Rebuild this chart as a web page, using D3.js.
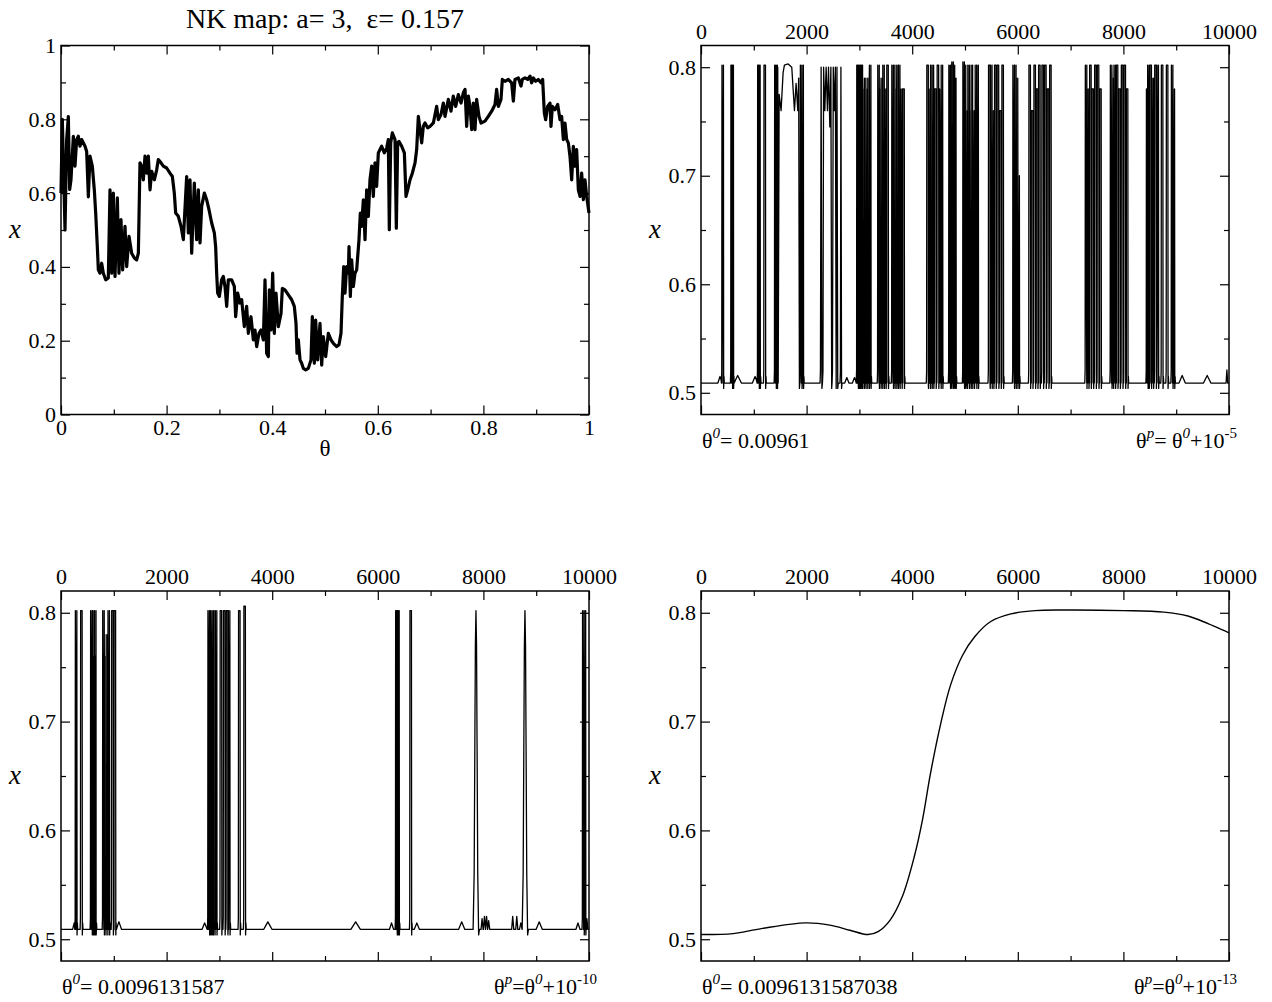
<!DOCTYPE html>
<html>
<head>
<meta charset="utf-8">
<script src="https://cdn.jsdelivr.net/npm/d3@7"></script>
<style>
body { margin: 0; background: #fff; }
text { font-family: "Liberation Serif", "Times New Roman", serif; fill: #000; }
</style>
</head>
<body>
<script>
// ---- data ----

// top-left: x against theta over [0,1] (jagged band)
var curveTL = [
[0,0.60],[0.0025,0.80],[0.0076,0.50],[0.0107,0.745],[0.0139,0.807],[0.0164,0.61],[0.0189,0.636],[0.0234,0.754],[0.0265,0.673],[0.0297,0.745],[0.0328,0.754],[0.036,0.727],[0.0391,0.745],[0.0455,0.727],[0.0486,0.713],[0.0518,0.59],[0.0549,0.70],[0.0593,0.673],[0.0631,0.609],[0.0657,0.546],[0.0688,0.455],[0.0707,0.392],[0.0739,0.383],[0.077,0.41],[0.0802,0.383],[0.0846,0.365],[0.0896,0.37],[0.0928,0.609],[0.096,0.383],[0.0991,0.60],[0.1023,0.374],[0.1067,0.587],[0.1098,0.383],[0.1136,0.528],[0.1168,0.392],[0.1212,0.51],[0.1244,0.401],[0.1288,0.483],[0.1338,0.437],[0.1389,0.424],[0.1433,0.419],[0.1465,0.437],[0.1496,0.682],[0.1528,0.673],[0.1559,0.636],[0.1591,0.70],[0.1622,0.654],[0.1654,0.70],[0.1686,0.609],[0.1717,0.659],[0.1768,0.636],[0.1812,0.663],[0.1843,0.691],[0.1894,0.682],[0.1938,0.673],[0.2001,0.668],[0.2064,0.654],[0.2109,0.645],[0.2146,0.60],[0.2172,0.546],[0.2222,0.537],[0.2273,0.51],[0.2317,0.474],[0.238,0.645],[0.2412,0.492],[0.2443,0.636],[0.2475,0.437],[0.2525,0.627],[0.2569,0.474],[0.2601,0.609],[0.2633,0.465],[0.2664,0.564],[0.2715,0.60],[0.2759,0.582],[0.2803,0.555],[0.2854,0.519],[0.2904,0.492],[0.2929,0.455],[0.2948,0.383],[0.2967,0.329],[0.2999,0.32],[0.3043,0.365],[0.3074,0.374],[0.3106,0.347],[0.3138,0.293],[0.3169,0.365],[0.3232,0.365],[0.3283,0.347],[0.3308,0.265],[0.3346,0.329],
[0.339,0.302],[0.3422,0.311],[0.3472,0.238],[0.3516,0.293],[0.3548,0.22],[0.3598,0.265],[0.3643,0.202],[0.3674,0.229],[0.3706,0.184],[0.375,0.22],[0.3788,0.229],[0.3832,0.202],[0.3864,0.365],[0.3895,0.166],[0.3927,0.157],[0.3946,0.338],[0.3977,0.229],[0.4009,0.383],[0.404,0.22],[0.4072,0.329],[0.4116,0.238],[0.4167,0.274],[0.4192,0.342],[0.4242,0.338],[0.4306,0.324],[0.4369,0.311],[0.4419,0.293],[0.4451,0.247],[0.447,0.166],[0.4495,0.202],[0.4527,0.148],[0.4558,0.139],[0.459,0.125],[0.4634,0.121],[0.4684,0.125],[0.4735,0.148],[0.476,0.265],[0.4798,0.139],[0.4823,0.256],[0.4861,0.148],[0.4905,0.247],[0.4937,0.134],[0.4968,0.211],[0.5013,0.157],[0.5063,0.22],[0.5114,0.202],[0.5158,0.193],[0.5221,0.184],[0.5265,0.189],[0.5303,0.22],[0.5328,0.32],[0.5354,0.401],[0.5379,0.329],[0.541,0.401],[0.5442,0.383],[0.5455,0.455],[0.548,0.32],[0.5505,0.419],[0.5537,0.347],[0.5568,0.383],[0.56,0.392],[0.5644,0.474],[0.5669,0.546],[0.5694,0.51],[0.5726,0.582],[0.5758,0.474],[0.5789,0.609],[0.5821,0.537],[0.5852,0.636],[0.5884,0.673],[0.5915,0.591],[0.5947,0.682],[0.5978,0.618],[0.601,0.709],[0.6042,0.718],[0.6073,0.727],[0.6124,0.709],[0.6168,0.722],[0.6199,0.745],[0.6218,0.501],[0.6244,0.736],[0.6275,0.763],[0.6301,0.754],[0.6326,0.745],[0.6351,0.505],[0.6376,0.736],[0.6402,0.740],[0.6452,0.727],[0.6503,0.709],[0.6534,0.591],[0.6566,0.609],[0.661,0.636],[0.6654,0.654],[0.6705,0.682],[0.6736,0.718],[0.6768,0.808],[0.6799,0.772],
[0.6831,0.736],[0.6862,0.781],[0.6894,0.79],[0.6944,0.777],[0.6989,0.781],[0.7052,0.79],[0.7115,0.835],[0.7146,0.799],[0.7197,0.813],[0.7241,0.844],[0.7273,0.808],[0.7336,0.854],[0.7386,0.822],[0.743,0.863],[0.7475,0.835],[0.7525,0.867],[0.7576,0.844],[0.762,0.872],[0.7652,0.881],[0.7683,0.781],[0.7715,0.863],[0.7746,0.835],[0.7778,0.772],[0.7809,0.844],[0.7841,0.772],[0.7872,0.854],[0.7917,0.808],[0.7955,0.79],[0.803,0.795],[0.8093,0.808],[0.8157,0.822],[0.822,0.840],[0.8251,0.881],[0.8283,0.835],[0.8333,0.854],[0.8359,0.908],[0.8409,0.903],[0.8472,0.908],[0.8535,0.899],[0.8567,0.849],[0.8598,0.908],[0.8662,0.912],[0.8712,0.890],[0.8737,0.908],[0.8788,0.912],[0.8838,0.908],[0.8883,0.917],[0.8914,0.899],[0.8946,0.912],[0.899,0.903],[0.904,0.908],[0.9091,0.899],[0.9122,0.908],[0.9154,0.817],[0.9179,0.799],[0.9217,0.835],[0.9261,0.844],[0.928,0.781],[0.9306,0.835],[0.9356,0.826],[0.9407,0.840],[0.9451,0.799],[0.9482,0.808],[0.9514,0.745],[0.9545,0.790],[0.9577,0.745],[0.9609,0.736],[0.964,0.70],[0.9672,0.636],[0.9703,0.727],[0.9735,0.673],[0.9766,0.718],[0.9798,0.609],[0.983,0.591],[0.9861,0.654],[0.9893,0.582],[0.9924,0.636],[0.9956,0.591],[1.0,0.546]
];

// top-right: iterates 0..10000, baseline level, spikes [n, peak], humps [n, height, halfwidth]
var baseTR = 0.509;
var spikesTR = [
[411,0.802],[581,0.802],[600,0.802],
[1087,0.802],[1106,0.802],[1207,0.802],[1409,0.802],[1432,0.802],
[1896,0.802],[1925,0.802],
[2964,0.802],[2983,0.802],[3002,0.79],[3027,0.802],[3046,0.802],[3078,0.78],[3109,0.79],[3141,0.78],[3173,0.79],[3204,0.802],
[3362,0.802],[3394,0.78],[3425,0.79],[3457,0.802],[3489,0.78],[3533,0.802],
[3628,0.802],[3659,0.802],[3691,0.78],[3722,0.802],[3754,0.802],[3792,0.78],[3836,0.78],
[4291,0.802],[4329,0.78],[4361,0.802],[4392,0.802],[4437,0.78],[4487,0.802],[4531,0.78],[4563,0.802],
[4708,0.802],[4734,0.802],[4765,0.805],[4791,0.802],[4816,0.79],
[4974,0.805],[5000,0.802],[5030,0.76],[5068,0.802],[5100,0.76],[5130,0.802],[5163,0.76],[5207,0.802],[5239,0.802],
[5460,0.802],[5498,0.802],[5530,0.76],[5574,0.802],[5624,0.802],[5669,0.76],[5713,0.802],
[5921,0.802],[5953,0.802],[5985,0.79],[6016,0.70],
[6225,0.802],[6270,0.76],[6320,0.802],[6364,0.78],[6408,0.802],[6471,0.802],[6522,0.802],[6572,0.78],[6617,0.802],
[7293,0.802],[7330,0.78],[7375,0.802],[7419,0.78],[7470,0.802],[7520,0.802],[7565,0.78],
[7767,0.802],[7798,0.79],[7836,0.802],[7880,0.802],[7925,0.78],[7975,0.802],[8026,0.802],[8070,0.78],
[8450,0.78],[8473,0.802],[8517,0.802],[8555,0.79],[8607,0.802],[8650,0.802],[8733,0.802],[8828,0.802],[8923,0.802],[8955,0.78]
];
var humpsTR = [[360,0.006,40],[695,0.007,70],[1024,0.006,50],[2762,0.005,40],[2907,0.005,40],[9113,0.007,60],[9587,0.007,70],[9960,0.012,15]];
// stretches that stay near the upper branch
var plateauTR = [
[1440,0.509],[1448,0.52],[1454,0.80],[1480,0.775],[1517,0.76],[1555,0.795],[1580,0.802],[1650,0.803],[1719,0.80],[1770,0.76],[1801,0.785],[1833,0.76],[1850,0.79],[1864,0.504],[1872,0.509],
[2255,0.509],[2262,0.52],[2275,0.80],[2290,0.504],[2300,0.509],[2310,0.52],[2322,0.80],[2345,0.76],[2370,0.80],[2395,0.76],[2415,0.80],[2440,0.745],[2460,0.80],[2475,0.504],[2482,0.509],[2490,0.52],[2505,0.80],[2525,0.76],[2545,0.80],[2560,0.504],[2575,0.80],[2590,0.504],[2600,0.509],
[2632,0.509],[2640,0.52],[2650,0.80],[2662,0.504],[2672,0.509]
];

// bottom-left
var baseBL = 0.509;
var spikesBL = [
[286,0.802],[386,0.802],
[575,0.802],[600,0.76],[618,0.802],[635,0.76],[649,0.802],
[804,0.802],[835,0.76],[870,0.78],[904,0.802],
[974,0.802],[1020,0.802],
[2797,0.802],[2820,0.76],[2845,0.802],[2870,0.76],[2900,0.802],[2937,0.802],
[3029,0.802],[3091,0.802],[3145,0.802],[3184,0.802],[3377,0.802],[3478,0.806],
[6352,0.802],[6372,0.802],[6391,0.802],[6623,0.802],
[9892,0.802],[9923,0.802]
];
var humpsBL = [[250,0.006,30],[1097,0.007,50],[2720,0.006,50],[3918,0.007,80],[5580,0.007,90],[6260,0.006,40],[6739,0.006,50],[7589,0.007,60],[7975,0.01,20],[8020,0.012,20],[8060,0.012,20],[8100,0.008,20],[8555,0.012,20],[8632,0.012,20],[8709,0.006,25],[9057,0.007,60],[9791,0.006,40],[9960,0.01,20]];
// two rounded excursions
var arcsBL = [
[7805,0.509],[7825,0.56],[7838,0.68],[7848,0.77],[7859,0.802],[7870,0.77],[7880,0.68],[7893,0.56],[7910,0.504],[7925,0.509],
[8733,0.509],[8753,0.56],[8766,0.68],[8776,0.77],[8787,0.802],[8798,0.77],[8808,0.68],[8821,0.56],[8838,0.504],[8853,0.509]
];

// bottom-right: smooth curve
var curveBR = [[0,0.5043],[610,0.5052],[1143,0.5098],[1982,0.515],[2439,0.513],[2820,0.5083],[3163,0.5043],[3354,0.507],[3582,0.5176],[3811,0.539],[4040,0.576],[4192,0.609],[4345,0.652],[4535,0.697],[4726,0.7335],[4954,0.761],[5183,0.778],[5488,0.792],[5869,0.799],[6326,0.802],[6860,0.8025],[8003,0.802],[8765,0.8006],[9223,0.797],[9604,0.790],[10000,0.7816]];

// ticks
var thetaMajor = [0, 0.2, 0.4, 0.6, 0.8, 1],
    thetaMinor = [0.1, 0.3, 0.5, 0.7, 0.9];
var iterMajor = [0, 2000, 4000, 6000, 8000, 10000],
    iterMinor = [1000, 3000, 5000, 7000, 9000];
var zoomMajor = [0.5, 0.6, 0.7, 0.8],
    zoomMinor = [0.55, 0.65, 0.75];

var startLabels = ['0.00961', '0.0096131587', '0.0096131587038'];
var endExponents = ['-5', '-10', '-13'];

// ---- drawing ----
var width = 1272, height = 1002;
var serif = '"Liberation Serif", "Times New Roman", serif';

var svg = d3.select('body').append('svg')
    .attr('width', width)
    .attr('height', height);

function spikeSeries(base, spikes, humps, extra) {
    var pts = [];
    spikes.forEach(function(s) {
        var n = s[0], top = s[1], w = 14;
        pts.push([n - w - 10, base], [n - w - 4, 0.52], [n - w, top], [n + w, top],
                 [n + w + 4, 0.504], [n + w + 10, 0.515], [n + w + 16, base]);
    });
    humps.forEach(function(h) {
        var n = h[0], dh = h[1], w = h[2];
        pts.push([n - w, base], [n - w / 2, base + dh * 0.5], [n, base + dh], [n + w / 2, base + dh * 0.5], [n + w, base]);
    });
    (extra || []).forEach(function(p) { pts.push(p); });
    pts.sort(function(a, b) { return a[0] - b[0]; });
    return [[0, base]].concat(pts, [[10000, base]]);
}

function drawPanel(p) {
    var x = d3.scaleLinear().domain(p.xd).range([p.x0, p.x1]);
    var y = d3.scaleLinear().domain(p.yd).range([p.y1, p.y0]);
    var g = svg.append('g');

    g.append('path')
        .datum(p.data)
        .attr('fill', 'none')
        .attr('stroke', '#000')
        .attr('stroke-width', p.lw)
        .attr('stroke-linejoin', 'round')
        .attr('d', d3.line()
            .x(function(d) { return x(d[0]); })
            .y(function(d) { return y(d[1]); })
            .curve(p.curve || d3.curveLinear));

    var fmt = function(d) { return String(d); };
    var none = function() { return ''; };

    function addAxis(axis, tx, ty) {
        var a = g.append('g')
            .attr('transform', 'translate(' + tx + ',' + ty + ')')
            .call(axis);
        a.select('.domain').remove();
        a.selectAll('line').attr('stroke', '#000').attr('stroke-width', 1.2);
        a.selectAll('text')
            .style('font-family', serif)
            .style('font-size', '22px')
            .attr('fill', '#000');
        return a;
    }

    var xMaj = p.xMajor, xMin = p.xMinor, yMaj = p.yMajor, yMin = p.yMinor;
    var labelsBottom = p.xLabels == 'bottom';

    addAxis(d3.axisBottom(x).tickValues(xMaj).tickSize(-9).tickPadding(5).tickFormat(labelsBottom ? fmt : none), 0, p.y1);
    addAxis(d3.axisBottom(x).tickValues(xMin).tickSize(-5).tickFormat(none), 0, p.y1);
    addAxis(d3.axisTop(x).tickValues(xMaj).tickSize(-9).tickPadding(7).tickFormat(labelsBottom ? none : fmt), 0, p.y0);
    addAxis(d3.axisTop(x).tickValues(xMin).tickSize(-5).tickFormat(none), 0, p.y0);
    addAxis(d3.axisLeft(y).tickValues(yMaj).tickSize(-9).tickPadding(5).tickFormat(fmt), p.x0, 0);
    addAxis(d3.axisLeft(y).tickValues(yMin).tickSize(-5).tickFormat(none), p.x0, 0);
    addAxis(d3.axisRight(y).tickValues(yMaj).tickSize(-9).tickFormat(none), p.x1, 0);
    addAxis(d3.axisRight(y).tickValues(yMin).tickSize(-5).tickFormat(none), p.x1, 0);

    g.append('rect')
        .attr('x', p.x0).attr('y', p.y0)
        .attr('width', p.x1 - p.x0).attr('height', p.y1 - p.y0)
        .attr('fill', 'none').attr('stroke', '#000').attr('stroke-width', 1.5);

    g.append('text')
        .attr('x', p.x0 - 46).attr('y', (p.y0 + p.y1) / 2)
        .attr('dy', '0.3em')
        .attr('text-anchor', 'middle')
        .attr('font-size', 27)
        .attr('font-style', 'italic')
        .text('x');

    return g;
}

function addNote(g, p, idx) {
    var by = p.y1 + 33;
    var t = g.append('text').attr('x', p.x0 + 1).attr('y', by).attr('font-size', 22);
    t.append('tspan').text('\u03b8');
    t.append('tspan').attr('dy', -10).attr('font-size', 15).attr('font-style', 'italic').text('0');
    t.append('tspan').attr('dy', 10).text('= ' + startLabels[idx]);

    var r = g.append('text').attr('x', p.x1 + 8).attr('y', by).attr('font-size', 22).attr('text-anchor', 'end');
    r.append('tspan').text('\u03b8');
    r.append('tspan').attr('dy', -10).attr('font-size', 15).attr('font-style', 'italic').text('p');
    r.append('tspan').attr('dy', 10).text(idx == 0 ? '= \u03b8' : '=\u03b8');
    r.append('tspan').attr('dy', -10).attr('font-size', 15).attr('font-style', 'italic').text('0');
    r.append('tspan').attr('dy', 10).text('+10');
    r.append('tspan').attr('dy', -10).attr('font-size', 15).text(endExponents[idx]);
}

var pTL = { x0: 61, x1: 589, y0: 45.5, y1: 414.5, xd: [0, 1], yd: [0, 1],
    xMajor: thetaMajor, xMinor: thetaMinor, yMajor: thetaMajor, yMinor: thetaMinor,
    xLabels: 'bottom', data: curveTL, lw: 3.2 };
var pTR = { x0: 701, x1: 1229, y0: 45.5, y1: 414.5, xd: [0, 10000], yd: [0.48, 0.82],
    xMajor: iterMajor, xMinor: iterMinor, yMajor: zoomMajor, yMinor: zoomMinor,
    xLabels: 'top', data: spikeSeries(baseTR, spikesTR, humpsTR, plateauTR), lw: 1.3 };
var pBL = { x0: 61, x1: 589, y0: 591, y1: 961, xd: [0, 10000], yd: [0.48, 0.82],
    xMajor: iterMajor, xMinor: iterMinor, yMajor: zoomMajor, yMinor: zoomMinor,
    xLabels: 'top', data: spikeSeries(baseBL, spikesBL, humpsBL, arcsBL), lw: 1.3 };
var pBR = { x0: 701, x1: 1229, y0: 591, y1: 961, xd: [0, 10000], yd: [0.48, 0.82],
    xMajor: iterMajor, xMinor: iterMinor, yMajor: zoomMajor, yMinor: zoomMinor,
    xLabels: 'top', data: curveBR, lw: 1.4, curve: d3.curveCatmullRom };

var gTL = drawPanel(pTL);
var gTR = drawPanel(pTR);
var gBL = drawPanel(pBL);
var gBR = drawPanel(pBR);

addNote(gTR, pTR, 0);
addNote(gBL, pBL, 1);
addNote(gBR, pBR, 2);

gTL.append('text')
    .attr('x', 325).attr('y', 456)
    .attr('text-anchor', 'middle')
    .attr('font-size', 23)
    .text('\u03b8');

svg.append('text')
    .attr('x', 325).attr('y', 28)
    .attr('text-anchor', 'middle')
    .attr('font-size', 28)
    .style('white-space', 'pre')
    .text('NK map: a= 3,  \u03b5= 0.157');
</script>
</body>
</html>
